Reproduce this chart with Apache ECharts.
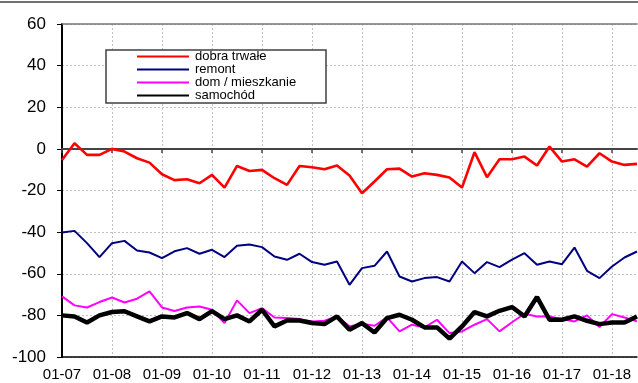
<!DOCTYPE html>
<html><head><meta charset="utf-8">
<script src="https://cdn.jsdelivr.net/npm/echarts@6/dist/echarts.min.js"></script>
<style>html,body{margin:0;padding:0;background:#fff}#c{width:638px;height:383px}</style>
</head><body><div id="c"></div>
<script>
const categories = ["01-07","04-07","07-07","10-07","01-08","04-08","07-08","10-08","01-09","04-09","07-09","10-09",
"01-10","04-10","07-10","10-10","01-11","04-11","07-11","10-11","01-12","04-12","07-12","10-12",
"01-13","04-13","07-13","10-13","01-14","04-14","07-14","10-14","01-15","04-15","07-15","10-15",
"01-16","04-16","07-16","10-16","01-17","04-17","07-17","10-17","01-18","04-18","07-18"];
const dobraTrwale = [-5.3,2.7,-2.9,-2.9,0,-1.3,-4.5,-6.6,-12.2,-15,-14.6,-16.5,-12.5,-18.6,-8.2,-10.6,-10.1,-14.1,-17.3,-8.2,-8.8,-9.8,-8,-12.8,-21.3,-15.7,-9.8,-9.5,-13.3,-11.7,-12.5,-13.8,-18.6,-1.6,-13.6,-5,-5,-3.7,-8,1.1,-6.1,-5,-8.5,-2.1,-6.1,-7.7,-7.2];
const remont = [-40.2,-39.4,-45.3,-52,-45.3,-44.2,-48.8,-49.8,-52.5,-49.2,-47.7,-50.4,-48.5,-52,-46.6,-45.9,-47.2,-51.7,-53.3,-50.4,-54.4,-55.7,-54.1,-65.3,-57.3,-56.2,-49.3,-61.3,-63.7,-62.1,-61.6,-63.7,-54.1,-59.7,-54.4,-56.8,-53.2,-50.1,-55.7,-54.1,-55.4,-47.4,-58.6,-62.1,-56.5,-52.2,-49.3];
const domMieszkanie = [-70.9,-75.2,-76.2,-73.6,-71.4,-73.8,-72,-68.5,-76.2,-77.9,-76.2,-75.7,-77.3,-83.7,-72.8,-78.9,-76.5,-81,-81.3,-81.8,-82.9,-82.6,-80.5,-85.3,-84,-85,-81,-87.7,-84.5,-85.8,-82.1,-88.5,-87.7,-84.5,-81.8,-87.7,-83.3,-79.2,-80.5,-80.5,-81.8,-82.9,-80,-85.6,-79.4,-81,-82.9];
const samochod = [-80,-80.5,-83.4,-80,-78.4,-78,-80.5,-82.9,-80.5,-81,-78.9,-81.8,-78,-81.8,-80,-82.9,-77.3,-85.3,-82.5,-82.5,-83.7,-84.2,-80.5,-86.9,-83.7,-88.2,-81.3,-79.7,-82.1,-85.8,-85.8,-91.2,-85.3,-78.4,-80.5,-77.8,-76,-80.5,-71.2,-82.1,-82.1,-80.5,-82.6,-84.2,-83.4,-83.4,-80.5];
const seriesNames = ["dobra trwałe","remont","dom / mieszkanie","samochód"];
const yTicks = {min:-100, max:60, interval:20};

const chart = echarts.init(document.getElementById('c'));
const font = "'Liberation Sans', Arial, sans-serif";
const baseX = {type:'category', data:categories, boundaryGap:false};
chart.setOption({
  animation:false,
  textStyle:{fontFamily:font},
  grid:{left:62, right:1, top:24, bottom:26, containLabel:false},
  graphic:[
    {type:'line', shape:{x1:0,y1:2,x2:638,y2:2}, style:{stroke:'#404040', lineWidth:1.5}, z:1},
    {type:'rect', shape:{x:106,y:50,width:220,height:53}, style:{fill:'#fff', stroke:'#404040', lineWidth:1.5}, z:5}
  ],
  legend:{
    data:seriesNames, orient:'vertical', left:136, top:50, padding:0,
    itemWidth:52, itemHeight:14, itemGap:0, z:10,
    itemStyle:{opacity:0},
    textStyle:{fontSize:13, color:'#000', fontFamily:font, padding:[2,0,0,1]},
    selectedMode:false
  },
  xAxis:[
    Object.assign({}, baseX, {
      position:'bottom',
      axisLine:{onZero:false, lineStyle:{color:'#000', width:1.5}},
      axisTick:{show:false},
      axisLabel:{interval:3, fontSize:15, color:'#000', margin:10, fontFamily:font},
      splitLine:{show:true, interval:3, lineStyle:{color:'#c0c0c0', type:[2,2], width:1}}
    }),
    Object.assign({}, baseX, {
      position:'bottom',
      axisLine:{onZero:true, lineStyle:{color:'#444', width:2}},
      axisTick:{show:true, interval:3, length:4, lineStyle:{color:'#444', width:1.5}},
      axisLabel:{show:false}, splitLine:{show:false}
    }),
    Object.assign({}, baseX, {
      position:'top',
      axisLine:{onZero:false, lineStyle:{color:'#777', width:1.5}},
      axisTick:{show:false}, axisLabel:{show:false}, splitLine:{show:false}
    })
  ],
  yAxis:{
    type:'value', min:yTicks.min, max:yTicks.max, interval:yTicks.interval,
    axisLine:{show:true, lineStyle:{color:'#000', width:2}},
    axisTick:{show:true, length:5, lineStyle:{color:'#000'}},
    axisLabel:{fontSize:17, color:'#000', margin:16, fontFamily:font},
    splitLine:{show:true, lineStyle:{color:'#c0c0c0', type:[2,2], width:1}}
  },
  series:[
    {name:seriesNames[0], type:'line', data:dobraTrwale, symbol:'none', lineStyle:{color:'#ff0000', width:2.6}, itemStyle:{color:'#ff0000'}},
    {name:seriesNames[1], type:'line', data:remont, symbol:'none', lineStyle:{color:'#000080', width:2}, itemStyle:{color:'#000080'}},
    {name:seriesNames[2], type:'line', data:domMieszkanie, symbol:'none', lineStyle:{color:'#ff00ff', width:2}, itemStyle:{color:'#ff00ff'}},
    {name:seriesNames[3], type:'line', data:samochod, symbol:'none', lineStyle:{color:'#000000', width:4.5}, itemStyle:{color:'#000'}}
  ]
});
</script></body></html>
